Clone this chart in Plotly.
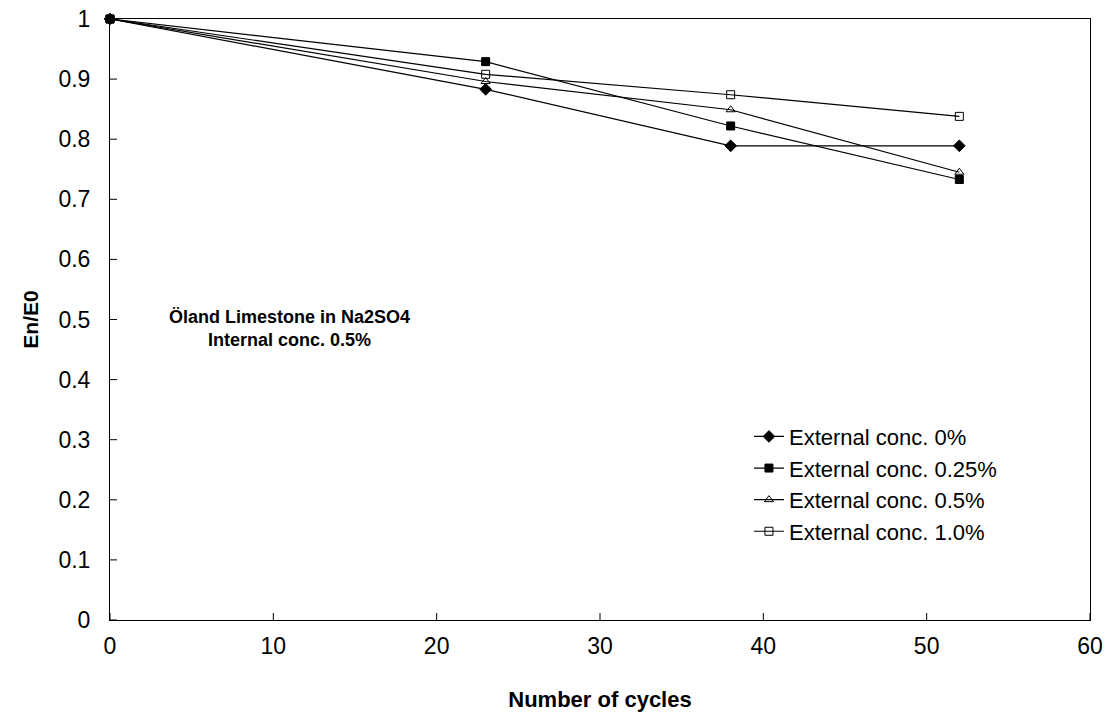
import plotly.graph_objects as go

# Number of freeze/thaw cycles and relative modulus En/E0
cycles = [0, 23, 38, 52]
ext_0 = [1.0, 0.883, 0.789, 0.789]
ext_025 = [1.0, 0.929, 0.822, 0.733]
ext_05 = [1.0, 0.896, 0.849, 0.745]
ext_10 = [1.0, 0.908, 0.874, 0.838]

series_names = ["External conc. 0%", "External conc. 0.25%",
                "External conc. 0.5%", "External conc. 1.0%"]
series_values = [ext_0, ext_025, ext_05, ext_10]
symbols = ["diamond", "square", "triangle-up-open", "square-open"]
marker_sizes = [9, 8, 8, 8]

x_ticks = [0, 10, 20, 30, 40, 50, 60]
y_ticks = [0, 0.1, 0.2, 0.3, 0.4, 0.5, 0.6, 0.7, 0.8, 0.9, 1]
y_tick_text = ["0", "0.1", "0.2", "0.3", "0.4", "0.5", "0.6", "0.7", "0.8", "0.9", "1"]

FONT = "Liberation Sans, Arial, sans-serif"

fig = go.Figure()
for name, vals, sym, sz in zip(series_names, series_values, symbols, marker_sizes):
    fig.add_trace(go.Scatter(
        x=cycles, y=vals, name=name, mode="lines+markers",
        line=dict(color="black", width=1.2),
        marker=dict(symbol=sym, size=sz, color="black",
                    line=dict(color="black", width=1)),
        cliponaxis=False,
    ))

# cross ticks straddling both axes
shapes = []
for xv in x_ticks:
    shapes.append(dict(type="line", xref="x", yref="y", ysizemode="pixel",
                       yanchor=0, x0=xv, x1=xv, y0=-7, y1=7,
                       line=dict(color="black", width=1)))
for yv in y_ticks:
    shapes.append(dict(type="line", xref="x", yref="y", xsizemode="pixel",
                       xanchor=0, y0=yv, y1=yv, x0=-7, x1=7,
                       line=dict(color="black", width=1)))

fig.update_layout(
    width=1109, height=712,
    margin=dict(l=110, r=19, t=19, b=92, autoexpand=False),
    paper_bgcolor="white", plot_bgcolor="white",
    font=dict(family=FONT, color="black", size=20),
    showlegend=True,
    legend=dict(x=0.652, y=0.34, xanchor="left", yanchor="top",
                bgcolor="rgba(0,0,0,0)", font=dict(size=22),
                itemwidth=30, tracegroupgap=0),
    shapes=shapes,
    annotations=[dict(
        x=11, y=0.485, xref="x", yref="y", showarrow=False,
        text="<b>Öland Limestone in Na2SO4<br>Internal conc. 0.5%</b>",
        font=dict(size=18, family=FONT), align="center",
    )],
)
fig.update_xaxes(
    range=[0, 60], tickvals=x_ticks, ticks="", showgrid=False, zeroline=False,
    showline=True, linecolor="black", linewidth=1, mirror=True,
    automargin=False, ticklabeloverflow="allow",
    tickfont=dict(size=23), ticklabelstandoff=5,
    title=dict(text="<b>Number of cycles</b>", font=dict(size=22), standoff=34),
)
fig.update_yaxes(
    range=[0, 1], tickvals=y_ticks, ticktext=y_tick_text, ticks="",
    showgrid=False, zeroline=False, automargin=False, ticklabeloverflow="allow",
    showline=True, linecolor="black", linewidth=1, mirror=True,
    tickfont=dict(size=23), ticklabelstandoff=14,
    title=dict(text="<b>En/E0</b>", font=dict(size=21), standoff=14),
)

fig.write_html("out.html")
